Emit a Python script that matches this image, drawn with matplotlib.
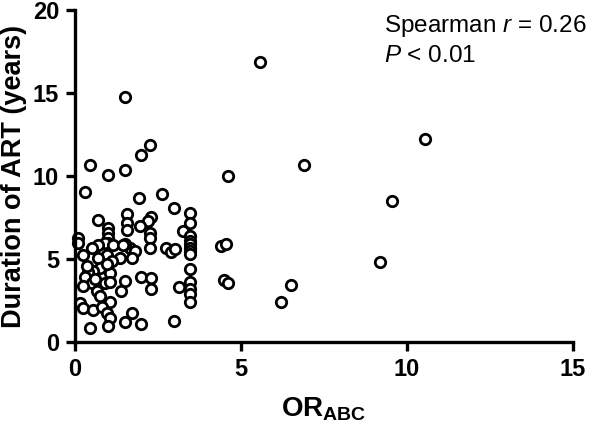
import matplotlib
matplotlib.use('Agg')
import matplotlib.pyplot as plt

plt.rcParams['font.family'] = ['Liberation Sans', 'DejaVu Sans']
plt.rcParams['mathtext.fontset'] = 'custom'
plt.rcParams['mathtext.rm'] = 'Liberation Sans'
plt.rcParams['mathtext.it'] = 'Liberation Sans:italic'
plt.rcParams['mathtext.bf'] = 'Liberation Sans:bold'

# OR_ABC vs duration of ART (years)
or_abc = [5.57, 1.5, 2.26, 2.0, 10.55, 6.9, 9.55, 9.2, 6.5, 6.2, 4.6, 4.4, 4.55, 4.5, 4.6,
          3.45, 3.45, 3.25, 3.45, 3.45, 3.45, 3.45, 3.45, 3.45, 3.45, 3.45, 3.45, 3.45, 3.45,
          2.62, 2.98, 2.74, 2.89, 3.0, 3.13, 2.98,
          1.93, 2.3, 2.2, 1.96, 2.26, 2.26, 2.26, 2.0, 2.3, 2.3, 1.72, 1.5, 2.0,
          1.5, 1.57, 1.57, 1.57, 1.66, 1.8, 1.5, 1.72, 1.5,
          1.0, 0.7, 1.0, 1.0, 1.0, 1.0, 0.9, 1.15, 1.45, 0.7, 0.5, 0.95, 0.7, 1.35, 1.1, 0.24,
          0.75, 0.55, 0.4, 1.05, 0.3, 0.9, 0.5, 0.24, 0.65, 1.4, 0.75, 1.05, 0.15, 0.24, 0.55,
          0.8, 0.95, 1.05, 1.0, 0.45, 0.1, 0.1, 0.45, 0.3, 0.95, 1.05, 0.35, 0.6]
duration = [16.85, 14.75, 11.9, 11.25, 12.25, 10.7, 8.5, 4.8, 3.45, 2.4, 10.0, 5.8, 5.9, 3.75, 3.55,
            7.8, 7.2, 6.7, 6.4, 6.1, 5.9, 5.7, 5.5, 5.3, 4.4, 3.6, 3.2, 2.9, 2.4,
            8.9, 8.1, 5.7, 5.45, 5.6, 3.3, 1.3,
            8.7, 7.55, 7.3, 7.0, 6.6, 6.25, 5.7, 3.9, 3.85, 3.2, 1.75, 1.2, 1.1,
            10.4, 7.75, 7.2, 6.75, 5.7, 5.5, 5.9, 5.05, 3.7,
            10.1, 7.35, 6.85, 6.55, 6.25, 5.95, 6.0, 5.85, 5.85, 5.85, 5.7, 5.25, 5.1, 5.1, 4.9, 5.25,
            4.45, 4.3, 4.2, 4.15, 3.9, 3.55, 3.55, 3.4, 3.1, 3.1, 2.8, 2.4, 2.35, 2.05, 1.95,
            2.1, 1.75, 1.45, 1.0, 0.85, 6.25, 6.0, 10.65, 9.05, 4.7, 3.6, 4.6, 3.8]

xticks = [0, 5, 10, 15]
yticks = [0, 5, 10, 15, 20]

fig = plt.figure(figsize=(6, 4.24), dpi=100)
ax = fig.add_axes([0.125, 0.193, 0.83, 0.783])

ax.plot(or_abc, duration, 'o', mfc='white', mec='black', ms=7.5, mew=2.0, clip_on=False)

ax.set_xlim(0, 15)
ax.set_ylim(0, 20)
ax.set_xticks(xticks)
ax.set_yticks(yticks)
for s in ['top', 'right']:
    ax.spines[s].set_visible(False)
for s in ['left', 'bottom']:
    ax.spines[s].set_linewidth(2.4)
ax.tick_params(direction='out', length=6.5, width=2.4, labelsize=17, pad=5)
for lab in ax.get_xticklabels() + ax.get_yticklabels():
    lab.set_fontweight('bold')

ax.set_xlabel(r'$\mathbf{OR}_{\mathbf{ABC}}$', fontsize=20, labelpad=10)
ax.set_ylabel('Duration of ART (years)', fontsize=19.5, fontweight='bold', labelpad=4)

ax.text(0.62, 0.99, 'Spearman $r$ = 0.26', transform=ax.transAxes, fontsize=17.5, va='top')
ax.text(0.62, 0.895, '$P$ < 0.01', transform=ax.transAxes, fontsize=17.5, va='top')

fig.savefig('out.png', dpi=100)
